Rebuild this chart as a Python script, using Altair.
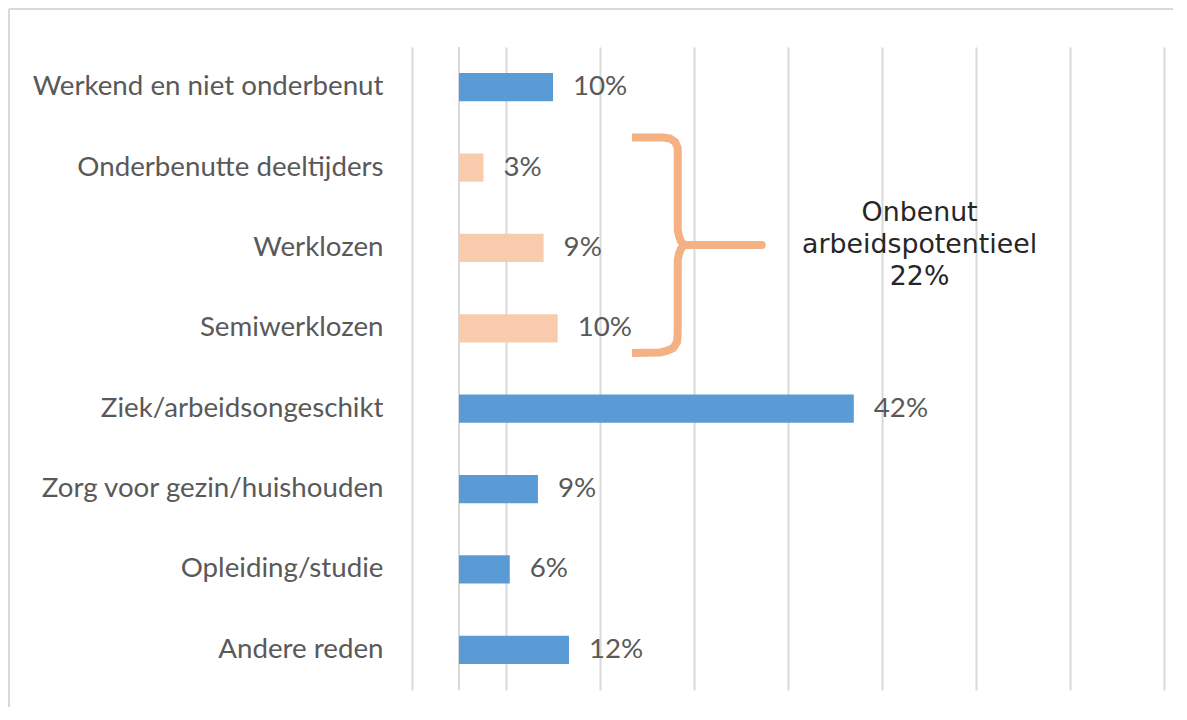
import altair as alt
import pandas as pd

# ---- data -------------------------------------------------------------
categories = [
    "Werkend en niet onderbenut",
    "Onderbenutte deeltijders",
    "Werklozen",
    "Semiwerklozen",
    "Ziek/arbeidsongeschikt",
    "Zorg voor gezin/huishouden",
    "Opleiding/studie",
    "Andere reden",
]
values = [10.0, 2.6, 9.0, 10.5, 42.0, 8.4, 5.4, 11.7]
value_labels = ["10%", "3%", "9%", "10%", "42%", "9%", "6%", "12%"]
groups = ["overig", "onbenut", "onbenut", "onbenut", "overig", "overig", "overig", "overig"]

annotation_text = "Onbenut\narbeidspotentieel\n22%"

# brace annotation outline (x in %, y in category-row units from top)
brace_x = [18.4, 21.7, 22.45, 23.0, 23.27, 23.27, 23.27, 23.4, 23.6, 23.9, 24.2, 32.2,
           24.2, 23.9, 23.6, 23.4, 23.27, 23.27, 23.2, 22.8, 22.1, 21.4, 18.4]
brace_y = [1.126, 1.126, 1.138, 1.182, 1.257, 1.344, 2.277, 2.352, 2.414, 2.457, 2.463, 2.463,
           2.463, 2.47, 2.513, 2.575, 2.65, 3.558, 3.67, 3.745, 3.782, 3.801, 3.807]

df = pd.DataFrame({"category": categories, "value": values,
                   "label": value_labels, "group": groups})
brace_df = pd.DataFrame({"bx": brace_x, "by": brace_y, "order": list(range(len(brace_x)))})
note_df = pd.DataFrame({"nx": [49.0], "ny": [2.065], "txt": [annotation_text]})
one = pd.DataFrame({"a": [0]})

LABEL_FONT = "Lato"
LABEL_SIZE = 27.7
GRID = "#D9D9D9"

x_scale = alt.Scale(domain=[-5, 75], nice=False, zero=False)
y_scale = alt.Scale(domain=categories, paddingInner=0.65, paddingOuter=0.325)
row_scale = alt.Scale(domain=[0, 8], reverse=True, nice=False, zero=False)

bars = alt.Chart(df).mark_bar().encode(
    x=alt.X("value:Q", scale=x_scale,
            axis=alt.Axis(values=[-5, 5, 15, 25, 35, 45, 55, 65, 75], labels=False,
                          ticks=False, domain=False, grid=True, gridColor=GRID,
                          gridWidth=2, title=None)),
    x2=alt.datum(0),
    y=alt.Y("category:N", sort=categories, scale=y_scale,
            axis=alt.Axis(title=None, ticks=False, domain=False, labelPadding=29,
                          labelFont=LABEL_FONT, labelFontSize=LABEL_SIZE, labelColor="#595959",
                          labelLimit=420)),
    color=alt.Color("group:N", scale=alt.Scale(domain=["overig", "onbenut"],
                                               range=["#5B9BD5", "#F8CBAD"]), legend=None),
)

zero_line = alt.Chart(one).mark_rule(color=GRID, strokeWidth=2).encode(x=alt.datum(0))

labels = alt.Chart(df).mark_text(align="left", baseline="middle", dx=20,
                                 font=LABEL_FONT, fontSize=LABEL_SIZE, color="#595959").encode(
    x=alt.X("value:Q", scale=x_scale),
    y=alt.Y("category:N", sort=categories, scale=y_scale, axis=None),
    text="label:N",
)

brace = alt.Chart(brace_df).mark_line(color="#F4B183", strokeWidth=8,
                                      strokeCap="butt", strokeJoin="round").encode(
    x=alt.X("bx:Q", scale=x_scale),
    y=alt.Y("by:Q", scale=row_scale, axis=None),
    order="order:Q",
)

note = alt.Chart(note_df).mark_text(align="center", baseline="middle", lineBreak="\n",
                                    lineHeight=32, font="DejaVu Sans", fontSize=26.8,
                                    color="#262626").encode(
    x=alt.X("nx:Q", scale=x_scale),
    y=alt.Y("ny:Q", scale=row_scale, axis=None),
    text="txt:N",
)

border_top = alt.Chart(one).mark_rule(color=GRID, strokeWidth=2).encode(
    x=alt.value(-403), x2=alt.value(770), y=alt.value(-38))
border_left = alt.Chart(one).mark_rule(color=GRID, strokeWidth=2).encode(
    x=alt.value(-403), y=alt.value(-38), y2=alt.value(660))

chart = alt.layer(zero_line, bars, labels, brace, note, border_top, border_left).resolve_scale(
    y="independent"
).properties(
    width=752, height=643,
    autosize="none",
    padding={"left": 404, "top": 39, "right": 9, "bottom": 18},
).configure_view(stroke=None)

chart.save("out.html", embed_options={"renderer": "svg", "actions": False})
